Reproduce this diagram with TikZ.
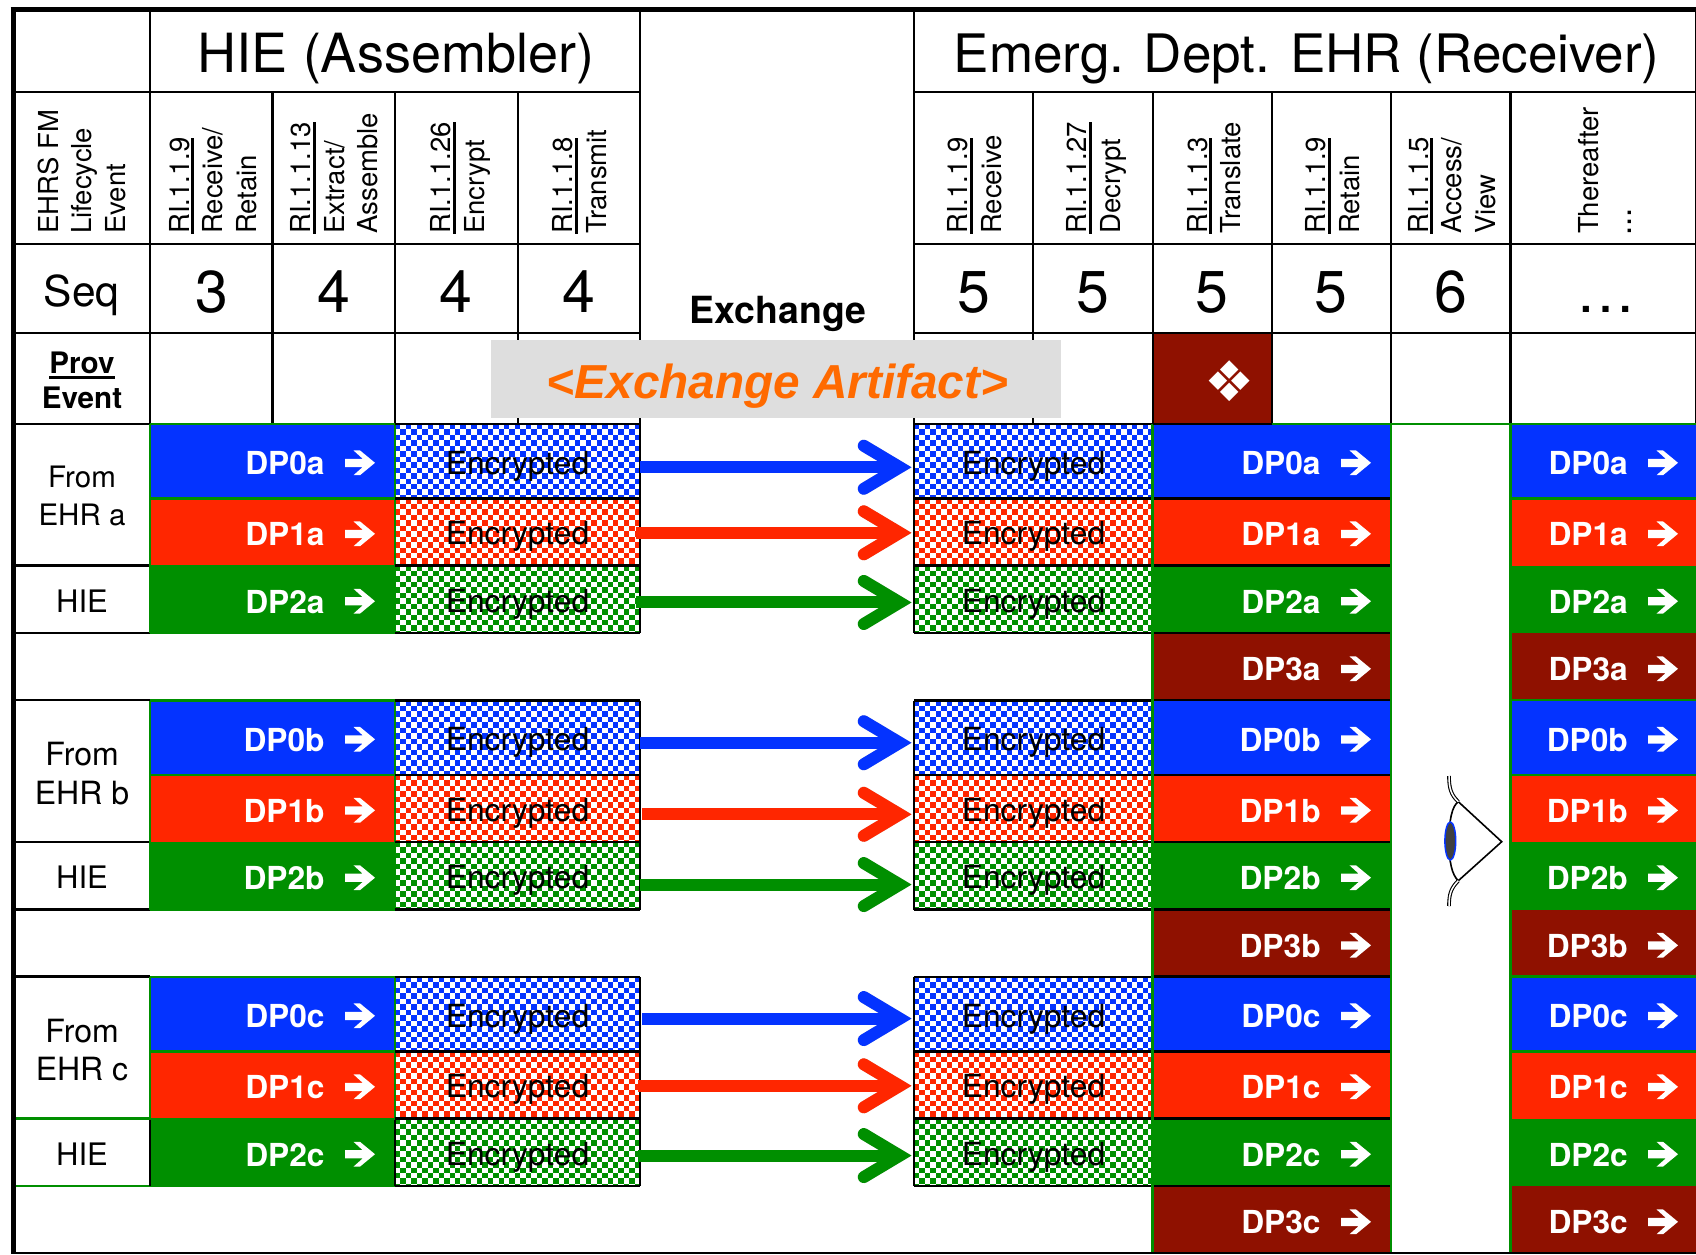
\documentclass[tikz,border=0pt]{standalone}
\usepackage{fontspec}
\setmainfont{TeX Gyre Heros}
\newfontfamily\djv{DejaVu Sans}
\newfontfamily\lib{Liberation Sans}
\usetikzlibrary{calc}
\definecolor{hblue}{HTML}{0433FF}
\definecolor{hred}{HTML}{FF2600}
\definecolor{hgreen}{HTML}{008F00}
\definecolor{hdark}{HTML}{8F1100}
\definecolor{hgrey}{HTML}{DEDEDE}
\definecolor{horange}{HTML}{FF6A00}
\newcommand\fs[1]{\fontsize{#1}{#1}\selectfont}
\newcommand\ulx[1]{\setbox0=\hbox{#1}\rlap{\rule[-5pt]{\wd0}{3pt}}\box0\relax}
\newcommand\lns[1]{\begin{tabular}[t]{@{}l@{}}#1\end{tabular}}
\newcommand\checker[5]{%
  \begin{scope}
  \clip (#1,#2) rectangle (#3,#4);
  \foreach \j in {0,...,14}{%
    \pgfmathsetmacro\ry{#2+(\j+.5)*5.45}%
    \pgfmathsetmacro\ph{mod(\j,2)*5.45}%
    \draw[#5,line width=5.45pt,dash pattern=on 5.45pt off 5.45pt,dash phase=\ph pt] (#1,\ry)--(#3,\ry);
  }
  \end{scope}}
\newcommand\warrow[2]{\fill[white,shift={(#1,#2)}] (0,-4)--(17.7,-4)--(8.5,-12.4)--(15,-12.4)--(30,0)--(15,12.4)--(8.5,12.4)--(17.7,4.2)--(0,4.2)--cycle;}
\newcommand\xfer[5]{% source, target, colour, dx, dy
  \begin{scope}[shift={(1.5,4)},opacity=.28]
    \draw[black!70,line width=12pt] ($(#1.east)+(#4,#5)$) -- ($(#2.west)+(-14,#5)$);
    \draw[black!70,line width=12pt,line cap=round,miter limit=10] ($(#2.west)+(-50,#5-21.5)$) -- ($(#2.west)+(-14,#5)$) -- ($(#2.west)+(-50,#5+21.5)$);
  \end{scope}
  \draw[#3,line width=12pt] ($(#1.east)+(#4,#5)$) -- ($(#2.west)+(-14,#5)$);
  \draw[#3,line width=12pt,line cap=round,miter limit=10] ($(#2.west)+(-50,#5-21.5)$) -- ($(#2.west)+(-14,#5)$) -- ($(#2.west)+(-50,#5+21.5)$);
}
\tikzset{
  gridline/.style={black,line width=2.6pt},
  greenline/.style={hgreen,line width=2.2pt},
  title/.style={anchor=base,inner sep=0pt,font=\fs{53}},
  hdr/.style={rotate=90,anchor=base west,inner sep=0pt,font=\fontsize{27.5}{33.5}\selectfont},
  seqnum/.style={anchor=base,inner sep=0pt,font=\fs{59}},
  dplabel/.style={anchor=base east,inner sep=0pt,text=white,font=\bfseries\fs{31.7}},
  enccell/.style={inner sep=0pt,text height=25.5pt,text depth=0pt,minimum width=#1,font=\fs{31.8},anchor=center},
  side/.style={anchor=base,inner sep=0pt},
}
\begin{document}
\begin{tikzpicture}[x=1pt,y=-1pt]
\useasboundingbox (0,0) rectangle (1696,1254);
\fill[white] (0,0) rectangle (1696,1254);

% coloured cells
\fill[hdark] (1153,333) rectangle (1272,424);
\foreach \b/\o in {0/0,1/276.5,2/553}{%
  \foreach \xa/\xb in {150/395,1153/1391,1511/1696}{%
    \fill[hblue] (\xa,424+\o) rectangle (\xb,498.5+\o);
    \fill[hred] (\xa,498.5+\o) rectangle (\xb,565.5+\o);
    \fill[hgreen] (\xa,565.5+\o) rectangle (\xb,633+\o);
  }
  \foreach \xa/\xb in {1153/1391,1511/1696}{%
    \fill[hdark] (\xa,633+\o) rectangle (\xb,700+\o);
  }
  \foreach \xa/\xb in {395/640,914/1153}{%
    \checker{\xa}{424+\o}{\xb}{498.5+\o}{hblue}
    \checker{\xa}{498.5+\o}{\xb}{565.5+\o}{hred}
    \checker{\xa}{565.5+\o}{\xb}{633+\o}{hgreen}
  }
}

% header grid
\draw[gridline] (13,92)--(640,92) (914,92)--(1696,92);
\draw[gridline] (13,244)--(640,244) (914,244)--(1696,244);
\draw[gridline] (13,333)--(640,333) (914,333)--(1696,333);
\draw[gridline] (13,424)--(640,424) (914,424)--(1272,424);
\draw[gridline] (150,9)--(150,424) (640,9)--(640,424) (914,9)--(914,424);
\foreach \x in {272.5,395,518,1033,1153,1272,1391,1510.5}{\draw[gridline] (\x,92)--(\x,424);}
\draw[gridline,line width=1.6pt] (1695.4,9)--(1695.4,424);

% block rules
\foreach \b/\o/\lc in {0/0/black,1/276.5/black,2/553/hgreen}{%
  \draw[\lc,line width=2.6pt] (13,565.5+\o)--(150,565.5+\o) (13,633+\o)--(150,633+\o);
  \draw[black,line width=2.6pt] (13,700+\o)--(150,700+\o);
  \draw[greenline] (150,424+\o)--(395,424+\o) (150,498.5+\o)--(395,498.5+\o);
  \draw[hgreen,line width=1pt] (150,565.5+\o)--(395,565.5+\o) (150,633.5+\o)--(395,633.5+\o);
  \draw[greenline] (150,424+\o)--(150,565.5+\o) (395,424+\o)--(395,633+\o);
  \draw[greenline,line width=1.2pt] (150,565.5+\o)--(150,633+\o);
  \foreach \xa/\xb in {395/640,914/1153}{%
    \draw[gridline] (\xa,424+\o)--(\xb,424+\o) (\xa,498.5+\o)--(\xb,498.5+\o) (\xa,565.5+\o)--(\xb,565.5+\o) (\xa,633+\o)--(\xb,633+\o);
  }
  \draw[gridline] (640,424+\o)--(640,633+\o) (914,424+\o)--(914,633+\o);
  \draw[gridline] (1153,498.5+\o)--(1391,498.5+\o) (1153,565.5+\o)--(1391,565.5+\o) (1153,633+\o)--(1391,633+\o) (1153,700+\o)--(1391,700+\o);
  \draw[greenline] (1511,498.5+\o)--(1696,498.5+\o) (1511,700+\o)--(1696,700+\o);
}
\draw[gridline] (150,1119.5)--(150,1186);
\draw[gridline] (395,1119.5)--(395,1186);
\draw[greenline] (1272,424)--(1696,424);
\draw[greenline] (1152.5,424)--(1152.5,1252) (1391,424)--(1391,1252) (1510.5,424)--(1510.5,1252);
\draw[gridline] (1153,424)--(1272,424);

% grey banner
\node[fill=hgrey,minimum width=570pt,minimum height=77.5pt,inner sep=0pt,anchor=north west] (banner) at (491,340) {};
\node[anchor=base,inner sep=0pt,text=horange,font=\lib\bfseries\itshape\fs{47.7}] (artifact) at (777.5,398.5) {<Exchange Artifact>};
\node[anchor=base,inner sep=0pt,font=\bfseries\fs{37.4}] (exchange) at (778,323) {Exchange};

% titles
\node[title,font=\fs{54}] (thie) at (396,72.5) {HIE (Assembler)};
\node[title] (tehr) at (1306.6,72.5) {Emerg. Dept. EHR (Receiver)};

% rotated headers
\node[hdr] (h0) at (58,234) {\lns{EHRS FM\\Lifecycle\\Event}};
\node[hdr] (h1) at (189,234) {\lns{\ulx{RI.1.1.9}\\Receive/\\Retain}};
\node[hdr] (h2) at (310.6,234) {\lns{\ulx{RI.1.1.13}\\Extract/\\Assemble}};
\node[hdr] (h3) at (450.8,234) {\lns{\ulx{RI.1.1.26}\\Encrypt}};
\node[hdr] (h4) at (572.7,234) {\lns{\ulx{RI.1.1.8}\\Transmit}};
\node[hdr] (h5) at (967.5,234) {\lns{\ulx{RI.1.1.9}\\Receive}};
\node[hdr] (h6) at (1086.5,234) {\lns{\ulx{RI.1.1.27}\\Decrypt}};
\node[hdr] (h7) at (1207,234) {\lns{\ulx{RI.1.1.3}\\Translate}};
\node[hdr] (h8) at (1325.5,234) {\lns{\ulx{RI.1.1.9}\\Retain}};
\node[hdr] (h9) at (1428,234) {\lns{\ulx{RI.1.1.5}\\Access/\\View}};
\node[hdr] (h10) at (1598,234) {\lns{Thereafter\\\hspace*{-2pt}{\fs{33}...}}};

% sequence row
\node[anchor=base,inner sep=0pt,font=\fs{42.5}] (seq) at (81.5,306) {Seq};
\node[seqnum] (s1) at (212,312.7) {3};
\node[seqnum] (s2) at (334,312.7) {4};
\node[seqnum] (s3) at (455.5,312.7) {4};
\node[seqnum] (s4) at (578.5,312.7) {4};
\node[seqnum] (s5) at (973.5,312.7) {5};
\node[seqnum] (s6) at (1092.7,312.7) {5};
\node[seqnum] (s7) at (1212,312.7) {5};
\node[seqnum] (s8) at (1331,312.7) {5};
\node[seqnum] (s9) at (1451,312.7) {6};
\node[seqnum] (s10) at (1606,312.7) {…};

% prov row
\node[side,font=\bfseries\fs{29.6}] (prov) at (82,373.5) {\ulx{Prov}};
\node[side,font=\bfseries\fs{29.6}] (event) at (82,408) {Event};
\node[anchor=center,inner sep=0pt,text=white,font=\djv\fs{56}] (mark) at (1230,381.5) {❖};

% side labels
\node[side,font=\fs{29.5}] (fa1) at (82,487.5) {From};
\node[side,font=\fs{29.5}] (fa2) at (82,525.5) {EHR a};
\node[side,font=\fs{31}] (ha) at (82,612) {HIE};
\node[side,font=\fs{32}] (fb1) at (82,765.5) {From};
\node[side,font=\fs{32}] (fb2) at (82,804) {EHR b};
\node[side,font=\fs{31}] (hb) at (82,888.5) {HIE};
\node[side,font=\fs{32}] (fc1) at (82,1042) {From};
\node[side,font=\fs{32}] (fc2) at (82,1080.5) {EHR c};
\node[side,font=\fs{31}] (hc) at (82,1165) {HIE};

% data point labels, arrows and encrypted cells
\foreach \b/\o in {a/0,b/276.5,c/553}{%
  \foreach \n/\yc/\yy in {0/462.3/461.25,1/533.3/532,2/600.7/599.25}{%
    \node[dplabel] (la\n\b) at (324.8,\yc+\o+12.3) {DP\n\b};
    \warrow{345}{\yc+\o+.5}
    \node[dplabel] (lb\n\b) at (1320.8,\yc+\o+12.3) {DP\n\b};
    \warrow{1341}{\yc+\o+.5}
    \node[dplabel] (lc\n\b) at (1628,\yc+\o+12.3) {DP\n\b};
    \warrow{1648}{\yc+\o+.5}
    \node[enccell=245pt] (src\n\b) at (517.5,\yy+\o) {Encrypted};
    \node[enccell=239pt] (dst\n\b) at (1033.5,\yy+\o) {Encrypted};
  }
  \node[dplabel] (lb3\b) at (1320.8,668.3+\o+12.3) {DP3\b};
  \warrow{1341}{668.8+\o}
  \node[dplabel] (lc3\b) at (1628,668.3+\o+12.3) {DP3\b};
  \warrow{1648}{668.8+\o}
}

% transfer arrows
\xfer{src0a}{dst0a}{hblue}{0}{6}
\xfer{src1a}{dst1a}{hred}{-4}{.8}
\xfer{src2a}{dst2a}{hgreen}{-4}{3.2}
\xfer{src0b}{dst0b}{hblue}{0}{5}
\xfer{src1b}{dst1b}{hred}{2}{5.8}
\xfer{src2b}{dst2b}{hgreen}{0}{8.8}
\xfer{src0c}{dst0c}{hblue}{2}{4.3}
\xfer{src1c}{dst1c}{hred}{-2}{.8}
\xfer{src2c}{dst2c}{hgreen}{-2}{3.3}

% eye
\draw[black,line width=1.6pt] (1458.3,801.7)--(1501.7,841.7)--(1458.3,880.7);
\draw[black,line width=1.6pt] (1458.3,801.7) .. controls (1452,806) and (1449,820) .. (1449,841.7) .. controls (1449,862) and (1452,875) .. (1458.3,880.7);
\draw[black,line width=1.1pt,double=white,double distance=1.5pt] (1449,776) .. controls (1449,788) and (1451,795) .. (1458.3,801.7);
\draw[black,line width=1.1pt,double=white,double distance=1.5pt] (1449,906) .. controls (1449,894) and (1451,888) .. (1458.3,880.7);
\fill[black!75,draw=hblue,line width=1.5pt] (1450.3,841) ellipse (5.4 and 19);

% outer frame
\draw[black,line width=5pt] (10.5,9.3)--(1696,9.3);
\draw[black,line width=5pt] (13,7)--(13,1254);
\draw[black,line width=2pt] (13,1252.5)--(1696,1252.5);
\end{tikzpicture}
\end{document}
